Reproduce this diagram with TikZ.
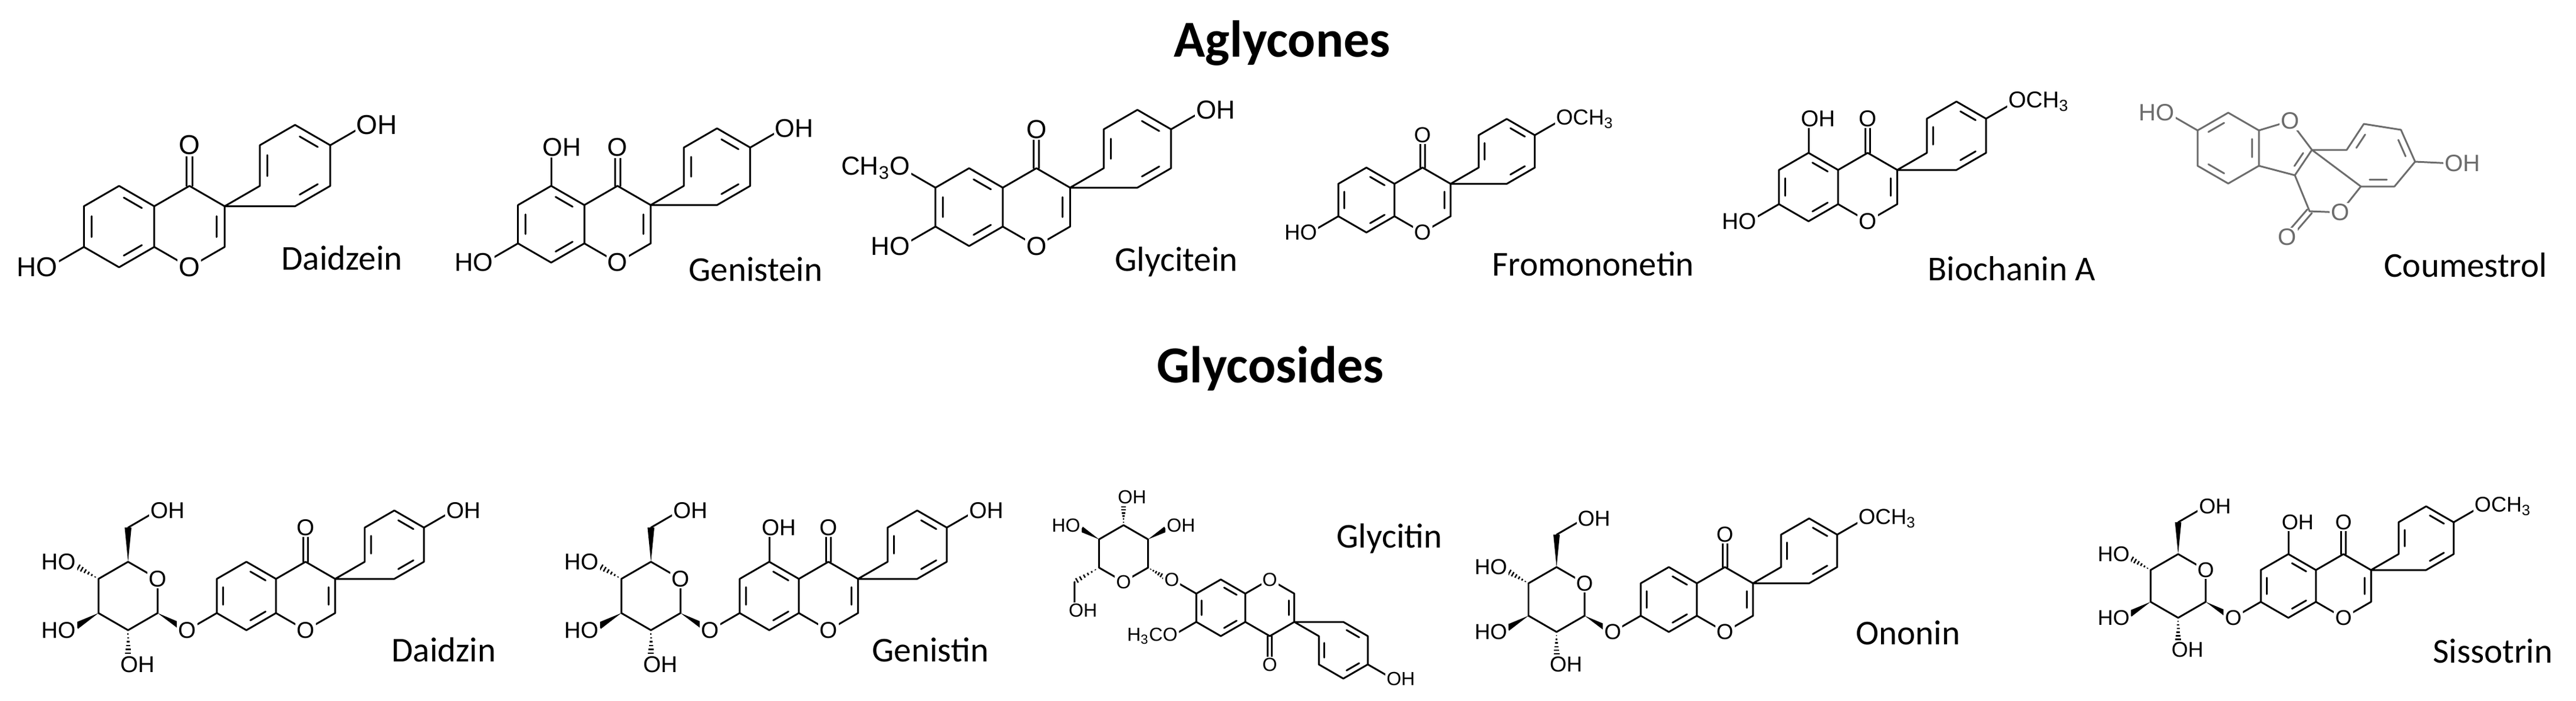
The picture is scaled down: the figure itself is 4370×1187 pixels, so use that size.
\documentclass[tikz,border=0pt]{standalone}
\usepackage{fontspec}
\setmainfont{Carlito}
\newfontfamily\atomfont{Liberation Sans}
\usetikzlibrary{calc}
\newcommand\setatom[1]{\pgfmathsetmacro\afs{0.19*#1}\pgfmathsetmacro\ash{0.074*#1}}
\tikzset{
 bond/.style={line width=0.85pt, line cap=round, line join=round},
 atom/.style={font=\atomfont\fontsize{\afs pt}{\afs pt}\selectfont, fill=white, inner sep=0.6pt},
 lr/.style={atom, anchor=west, xshift=-\ash pt},
 ll/.style={atom, anchor=east, xshift=\ash pt},
 cname/.style={anchor=base west, font=\fontsize{16.8}{18}\selectfont},
 ttl/.style={anchor=base, font=\bfseries\fontsize{25}{28}\selectfont}
}
\newcommand\dbl[3]{\draw[bond] ($($(#1)!0.17!(#2)$)!0.22!(#3)$) -- ($($(#2)!0.17!(#1)$)!0.22!(#3)$);}
\newcommand\wdg[3]{\begin{scope}[shift={(#1)},rotate=#2]\fill (0,0) -- (#3,-0.1) -- (#3,0.1) -- cycle;\end{scope}}
\newcommand\hsh[3]{\begin{scope}[shift={(#1)},rotate=#2]\foreach \t in {0.15,0.3,0.45,0.6,0.75,0.9}{\draw[line width=0.7pt] (\t*#3,-0.1*\t) -- (\t*#3,0.1*\t);}\end{scope}}
% isoflavone core, bond = 1, ring A centre at origin, y downward
\newcommand\isocore[1]{%
 \coordinate (a1) at (0,-1); \coordinate (a2) at (0.866,-0.5); \coordinate (a3) at (0.866,0.5);
 \coordinate (a4) at (0,1); \coordinate (a5) at (-0.866,0.5); \coordinate (a6) at (-0.866,-0.5);
 \coordinate (ca) at (0,0); \coordinate (cc) at (1.732,0); \coordinate (cb) at (4.33,-1.5);
 \coordinate (c4) at (1.732,-1); \coordinate (c3) at (2.598,-0.5); \coordinate (c2) at (2.598,0.5); \coordinate (o1) at (1.732,1);
 \coordinate (co) at (1.732,-2);
 \coordinate (b1) at (3.464,-1); \coordinate (b2) at (3.464,-2); \coordinate (b3) at (4.33,-2.5);
 \coordinate (b4) at (5.196,-2); \coordinate (b5) at (5.196,-1); \coordinate (b6) at (4.33,-0.5); \coordinate (bp) at (6.062,-2.5);
 \draw[bond] (a1)--(a2)--(a3)--(a4)--(a5)--(a6)--cycle;
 \draw[bond] (a2)--(c4)--(c3)--(c2)--(o1)--(a3);
 \draw[bond] (c3)--(b1)--(b2)--(b3)--(b4)--(b5)--(b6)--cycle;
 \draw[bond] (b4)--(bp);
 \draw[bond] (1.662,-1)--(1.662,-1.8); \draw[bond] (1.802,-1)--(1.802,-1.8);
 \dbl{a6}{a5}{ca}\dbl{a1}{a2}{ca}\dbl{a4}{a3}{ca}\dbl{c3}{c2}{cc}
 \dbl{b1}{b2}{cb}\dbl{b3}{b4}{cb}\dbl{b5}{b6}{cb}
 \node[atom] at (o1) {O}; \node[atom] at (co) {O}; \node[lr] at (bp) {#1};}
\newcommand\sevenOH{\draw[bond] (a5)--(-1.732,1); \node[ll] at (-1.732,1) {HO};}
\newcommand\fiveOH{\draw[bond] (a1)--(0,-2); \node[lr] at (0,-2) {OH};}
\newcommand\sugar{%
 \coordinate (gO) at (-2.598,-0.5); \coordinate (g5) at (-3.464,-1); \coordinate (g4) at (-4.33,-0.5);
 \coordinate (g3) at (-4.33,0.5); \coordinate (g2) at (-3.464,1); \coordinate (g1) at (-2.598,0.5);
 \coordinate (og) at (-1.732,1); \coordinate (gc) at (-3.464,-2);
 \draw[bond] (gO)--(g5)--(g4)--(g3)--(g2)--(g1)--(gO);
 \draw[bond] (a5)--(og); \draw[bond] (gc)--(-2.598,-2.5);
 \wdg{g1}{330}{0.8}\wdg{g5}{90}{1}\hsh{g4}{150}{0.75}\wdg{g3}{210}{0.75}\hsh{g2}{270}{0.75}
 \node[atom] at (gO) {O}; \node[atom] at (og) {O};
 \node[lr] at (-2.598,-2.5) {OH}; \node[ll] at (-5.196,-1) {HO}; \node[ll] at (-5.196,1) {HO};
 \node[lr] at (-3.464,2) {OH};}
\begin{document}
\begin{tikzpicture}[x=0.01cm,y=-0.01cm]
\useasboundingbox (0,0) rectangle (4370,1187);
\node[ttl] at (2175,96) {Aglycones};
\node[ttl] at (2155,648) {Glycosides};
% Daidzein
\setatom{69}
\begin{scope}[shift={(202,384)},scale=69]\isocore{OH}\sevenOH\end{scope}
\node[cname] at (465,457) {Daidzein};
% Genistein
\setatom{65}
\begin{scope}[shift={(935,380)},scale=65]\isocore{OH}\sevenOH\fiveOH\end{scope}
\node[cname] at (1156,476) {Genistein};
% Glycitein
\setatom{66}
\begin{scope}[shift={(1644,351)},scale=66]\isocore{OH}\sevenOH
 \draw[bond] (a6)--(-1.732,-1); \node[ll] at (-1.732,-1) {CH\textsubscript{3}O};\end{scope}
\node[cname] at (1879,459) {Glycitein};
% Fromononetin
\setatom{55}
\begin{scope}[shift={(2318,339)},scale=55]\isocore{OCH\textsubscript{3}}\sevenOH\end{scope}
\node[cname] at (2519,467) {Fromononetin};
% Biochanin A
\setatom{58}
\begin{scope}[shift={(3068,317)},scale=58]\isocore{OCH\textsubscript{3}}\sevenOH\fiveOH\end{scope}
\node[cname] at (3258,475) {Biochanin A};
% Coumestrol
\setatom{60}
\begin{scope}[gray!85!black]
 \coordinate (l1) at (3780,191); \coordinate (l2) at (3832,221); \coordinate (l3) at (3832,281);
 \coordinate (l4) at (3780,311); \coordinate (l5) at (3728,281); \coordinate (l6) at (3728,221); \coordinate (lc) at (3780,251);
 \coordinate (fo) at (3885,205); \coordinate (f2) at (3922,254); \coordinate (f3) at (3893,297); \coordinate (fc) at (3872,252);
 \coordinate (r1) at (3981,254); \coordinate (r2) at (4010,210); \coordinate (r3) at (4073,220);
 \coordinate (r4) at (4097,274); \coordinate (r5) at (4062,316); \coordinate (r6) at (4005,316); \coordinate (rc) at (4038,265);
 \coordinate (lo) at (3970,360); \coordinate (lk) at (3918,358); \coordinate (lko) at (3880,402); \coordinate (pc) at (3946,306);
 \draw[bond] (l1)--(l2)--(l3)--(l4)--(l5)--(l6)--cycle;
 \draw[bond] (l2)--(fo)--(f2)--(f3)--(l3);
 \draw[bond] (f2)--(r1)--(r2)--(r3)--(r4)--(r5)--(r6)--cycle;
 \draw[bond] (r6)--(lo)--(lk)--(f3);
 \draw[bond] ($(lk)+(-4,-3)$)--($(lko)+(-4,-3)$); \draw[bond] ($(lk)+(4,3)$)--($(lko)+(4,3)$);
 \draw[bond] (l6)--(3676,191); \draw[bond] (r4)--(4160,277);
 \dbl{l6}{l1}{lc}\dbl{l2}{l3}{lc}\dbl{l4}{l5}{lc}\dbl{f2}{f3}{fc}
 \dbl{r1}{r2}{rc}\dbl{r3}{r4}{rc}\dbl{r5}{r6}{rc}
 \node[atom] at (fo) {O}; \node[atom] at (lo) {O}; \node[atom] at (lko) {O};
 \node[ll] at (3676,191) {HO}; \node[lr] at (4160,277) {OH};
\end{scope}
\node[cname] at (4032,469) {Coumestrol};
% Daidzin
\setatom{58}
\begin{scope}[shift={(418,1010)},scale=58]\isocore{OH}\sugar\end{scope}
\node[cname] at (652,1121) {Daidzin};
% Genistin
\begin{scope}[shift={(1305,1010)},scale=58]\isocore{OH}\sugar\fiveOH\end{scope}
\node[cname] at (1467,1121) {Genistin};
% Glycitin
\setatom{48}
\begin{scope}[shift={(1906,938)},scale=48]
 \coordinate (s1) at (0,-1); \coordinate (s2) at (0.866,-0.5); \coordinate (s3) at (0.866,0.5);
 \coordinate (s4) at (0,1); \coordinate (s5) at (-0.866,0.5); \coordinate (s6) at (-0.866,-0.5);
 \coordinate (sc) at (-1.732,1);
 \draw[bond] (s1)--(s2)--(s3)--(s4)--(s5)--(s6)--cycle;
 \hsh{s1}{90}{0.72}\wdg{s6}{150}{0.72}\wdg{s2}{30}{0.72}\hsh{s5}{210}{1}\hsh{s3}{330}{0.72}
 \draw[bond] (sc)--(-1.732,2);
 \node[atom] at (s4) {O};
 \node[lr] at (0,-2) {OH}; \node[ll] at (-1.732,-1) {HO}; \node[lr] at (1.732,-1) {OH};
 \node[lr] at (-1.732,2) {OH};
\end{scope}
\begin{scope}[shift={(2071,1030)},scale=48,yscale=-1]\isocore{OH}
 \draw[bond] (a5)--(-1.732,1); \node[atom] at (-1.732,1) {O};
 \draw[bond] (a6)--(-1.732,-1); \node[ll] at (-1.732,-1) {H\textsubscript{3}CO};
\end{scope}
\node[cname] at (2255,928) {Glycitin};
% Ononin
\setatom{55}
\begin{scope}[shift={(2831,1016)},scale=55]\isocore{OCH\textsubscript{3}}\sugar\end{scope}
\node[cname] at (3136,1092) {Ononin};
% Sissotrin
\setatom{54}
\begin{scope}[shift={(3882,993)},scale=54]\isocore{OCH\textsubscript{3}}\sugar\fiveOH\end{scope}
\node[cname] at (4115,1123) {Sissotrin};
\end{tikzpicture}
\end{document}
